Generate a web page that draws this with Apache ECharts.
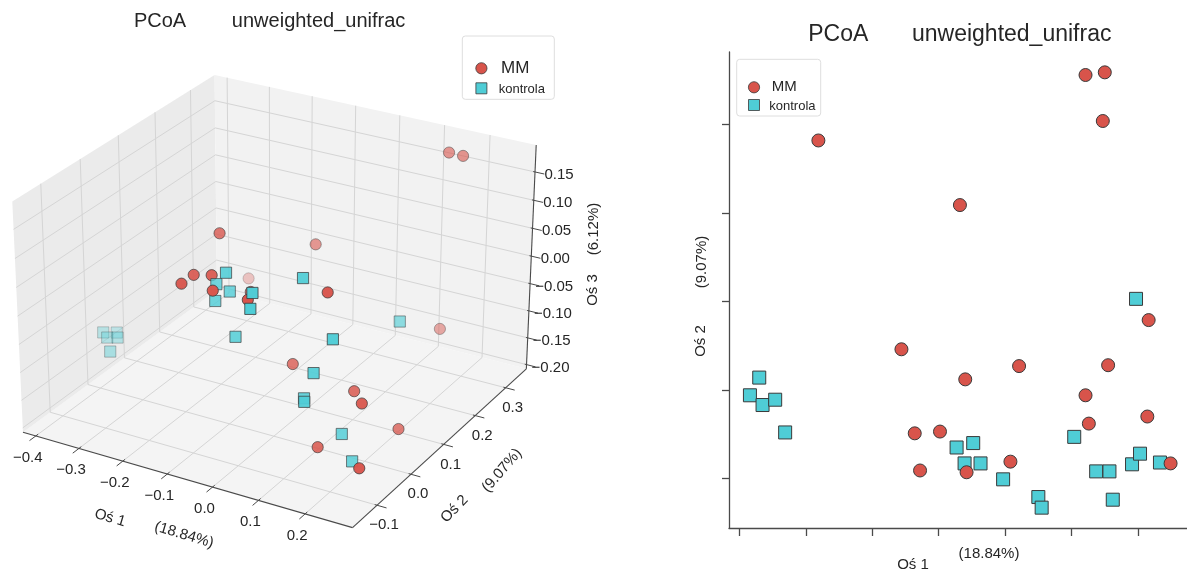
<!DOCTYPE html>
<html><head><meta charset="utf-8">
<script src="https://cdn.jsdelivr.net/npm/echarts@6/dist/echarts.min.js"></script>
<style>html,body{margin:0;padding:0;background:#fff}#c{width:1187px;height:574px}</style>
</head><body><div id="c"></div>
<script>
// ---------------- data ----------------
const seriesNames = ['MM', 'kontrola'];
const mmOs1 = [-0.281, -0.068, 0.121, 0.150, 0.147, -0.156, -0.060, 0.021, 0.155, 0.216, 0.121, -0.136, -0.098, 0.126, 0.214, -0.128, -0.058, 0.008, 0.249];
const mmOs2 = [0.282, 0.209, 0.356, 0.359, 0.304, 0.046, 0.012, 0.027, 0.028, 0.079, -0.006, -0.049, -0.047, -0.038, -0.030, -0.091, -0.093, -0.081, -0.083];
const mmOs3 = [-0.115, 0.023, 0.158, 0.156, -0.133, 0.099, 0.031, -0.087, -0.107, -0.188, 0.075, 0.074, 0.080, -0.179, -0.086, 0.080, 0.083, 0.075, -0.164];
const kOs1 = [-0.370, -0.384, -0.365, -0.346, -0.331, -0.073, -0.048, -0.061, -0.037, -0.003, 0.050, 0.055, 0.104, 0.197, 0.137, 0.157, 0.162, 0.191, 0.203, 0.233];
const kOs2 = [0.014, -0.006, -0.017, -0.011, -0.048, -0.065, -0.060, -0.083, -0.083, -0.101, -0.121, -0.133, -0.053, 0.103, -0.092, -0.092, -0.124, -0.084, -0.072, -0.082];
const kOs3 = [-0.106, -0.099, -0.099, -0.098, -0.102, 0.078, 0.068, 0.060, 0.113, 0.019, 0.114, 0.094, 0.118, -0.012, -0.062, -0.014, -0.046, 0.047, -0.120, -0.156];
const os1Ticks = [-0.4, -0.3, -0.2, -0.1, 0.0, 0.1, 0.2];
const os2Ticks = [-0.1, 0.0, 0.1, 0.2, 0.3];
const os3Ticks = [-0.20, -0.15, -0.10, -0.05, 0.00, 0.05, 0.10, 0.15];
const titleParts = ['PCoA', 'unweighted_unifrac'];
const axisNames = ['Oś 1', 'Oś 2', 'Oś 3'];
const axisPct = ['(18.84%)', '(9.07%)', '(6.12%)'];

// ---------------- style ----------------
const FONT = '"Liberation Sans", Arial, sans-serif';
const MM_COLOR = '#d8544b', K_COLOR = '#4fcdd6', EDGE = '#3a3a3a';
const AXIS_COLOR = '#4a4a4a', GRID_COLOR = '#d5d5d5', TEXT_COLOR = '#262626';

// ---------------- 3D view (left panel) ----------------
const box = { x: [-0.43, 0.30], y: [-0.17, 0.37], z: [-0.208, 0.197] };
const view = { azim: -60, elev: 27, dist: 8, zAspect: 0.705, sx: 375.7, sy: 361.5, cx: 279.7, cy: 288.6 };
function project(x, y, z) {
  const nx = (x - (box.x[0] + box.x[1]) / 2) / (box.x[1] - box.x[0]);
  const ny = (y - (box.y[0] + box.y[1]) / 2) / (box.y[1] - box.y[0]);
  const nz = (z - (box.z[0] + box.z[1]) / 2) / (box.z[1] - box.z[0]) * view.zAspect;
  const a = view.azim * Math.PI / 180, e = view.elev * Math.PI / 180;
  const pr = -Math.sin(a) * nx + Math.cos(a) * ny;
  const pu = -Math.sin(e) * Math.cos(a) * nx - Math.sin(e) * Math.sin(a) * ny + Math.cos(e) * nz;
  const pw = Math.cos(e) * Math.cos(a) * nx + Math.cos(e) * Math.sin(a) * ny + Math.sin(e) * nz;
  const f = view.dist / (view.dist - pw);
  return [view.cx + view.sx * f * pr, view.cy - view.sy * f * pu, pw];
}
const P = (x, y, z) => project(x, y, z).slice(0, 2);
const fmt = (v, d) => (v < 0 ? '\u2212' : '') + Math.abs(v).toFixed(d);

const [x0, x1] = box.x, [y0, y1] = box.y, [z0, z1] = box.z;
const frame = [];
frame.push({ type: 'polygon', shape: { points: [P(x0, y0, z0), P(x1, y0, z0), P(x1, y1, z0), P(x0, y1, z0)] }, style: { fill: '#f4f4f4' }, z: 0 });
frame.push({ type: 'polygon', shape: { points: [P(x0, y0, z0), P(x0, y1, z0), P(x0, y1, z1), P(x0, y0, z1)] }, style: { fill: '#ebebeb' }, z: 0 });
frame.push({ type: 'polygon', shape: { points: [P(x0, y1, z0), P(x1, y1, z0), P(x1, y1, z1), P(x0, y1, z1)] }, style: { fill: '#f2f2f2' }, z: 0 });
const gl = pts => ({ type: 'polyline', shape: { points: pts }, style: { stroke: GRID_COLOR, lineWidth: 1, fill: null }, z: 0 });
os1Ticks.forEach(t => frame.push(gl([P(t, y0, z0), P(t, y1, z0), P(t, y1, z1)])));
os2Ticks.forEach(t => frame.push(gl([P(x1, t, z0), P(x0, t, z0), P(x0, t, z1)])));
os3Ticks.forEach(t => frame.push(gl([P(x0, y0, t), P(x0, y1, t), P(x1, y1, t)])));
const al = (a, b, w) => ({ type: 'line', shape: { x1: a[0], y1: a[1], x2: b[0], y2: b[1] }, style: { stroke: AXIS_COLOR, lineWidth: w || 1 }, z: 1 });
frame.push(al(P(x0, y0, z0), P(x1, y0, z0), 1.1));
frame.push(al(P(x1, y0, z0), P(x1, y1, z0), 1.1));
frame.push(al(P(x1, y1, z0), P(x1, y1, z1), 1.1));
const txt = (text, x, y, size, rot, extra) => Object.assign({
  type: 'text', x: x, y: y, rotation: rot || 0, z: 5,
  style: { text: text, font: size + 'px ' + FONT, fill: TEXT_COLOR, align: 'center', verticalAlign: 'middle', textAlign: 'center', textVerticalAlign: 'middle' }
}, extra || {});
os1Ticks.forEach(t => {
  frame.push(al(P(t, y0 + 0.006, z0), P(t, y0 - 0.016, z0)));
  const b = P(t, y0, z0);
  frame.push(txt(fmt(t, 1), b[0] - 8, b[1] + 21.5, 15));
});
os2Ticks.forEach(t => {
  frame.push(al(P(x1 - 0.005, t, z0), P(x1 + 0.02, t, z0)));
  const b = P(x1, t, z0);
  frame.push(txt(fmt(t, 1), b[0] + 7, b[1] + 20, 15));
});
os3Ticks.forEach(t => {
  frame.push(al(P(x1 - 0.004, y1, t), P(x1 + 0.02, y1, t)));
  const b = P(x1, y1, t);
  frame.push(txt(fmt(t, 2), b[0] + 24, b[1] + 3, 15));
});
// left axis titles
frame.push(txt(axisNames[0], 110, 518, 15, -0.29));
frame.push(txt(axisPct[0], 184, 535, 15, -0.29));
frame.push(txt(axisNames[1], 454.5, 509, 15, 0.79));
frame.push(txt(axisPct[1], 502, 470.5, 15, 0.86));
frame.push(txt(axisNames[2], 593, 290, 15, Math.PI / 2));
frame.push(txt(axisPct[2], 594, 229, 15, Math.PI / 2));
// titles
frame.push(txt(titleParts[0], 160, 21, 20, 0));
frame.push(txt(titleParts[1], 318.6, 21, 20, 0));
frame.push(txt(titleParts[0], 838.3, 35, 23, 0));
frame.push(txt(titleParts[1], 1011.7, 35, 23, 0));
// right axis titles
frame.push(txt(axisNames[0], 913, 565, 15, 0));
frame.push(txt(axisPct[0], 989, 554, 15, 0));
frame.push(txt(axisNames[1], 701, 341, 15, Math.PI / 2));
frame.push(txt(axisPct[1], 702, 262, 15, Math.PI / 2));
// legends
function legend(bx, by, bw, bh, c1, c2, s1, s2, t1x, t2x) {
  frame.push({ type: 'rect', shape: { x: bx, y: by, width: bw, height: bh, r: 3 }, style: { fill: '#fff', stroke: '#dedede', lineWidth: 1 }, z: 4 });
  frame.push({ type: 'circle', shape: { cx: c1[0], cy: c1[1], r: 5.6 }, style: { fill: MM_COLOR, stroke: EDGE, lineWidth: 0.8 }, z: 5 });
  frame.push({ type: 'rect', shape: { x: c2[0] - 5.5, y: c2[1] - 5.5, width: 11, height: 11 }, style: { fill: K_COLOR, stroke: EDGE, lineWidth: 0.8 }, z: 5 });
  frame.push({ type: 'text', x: t1x, y: c1[1], z: 5, style: { text: seriesNames[0], font: s1 + 'px ' + FONT, fill: TEXT_COLOR, align: 'left', verticalAlign: 'middle', textAlign: 'left', textVerticalAlign: 'middle' } });
  frame.push({ type: 'text', x: t2x, y: c2[1] + 1, z: 5, style: { text: seriesNames[1], font: s2 + 'px ' + FONT, fill: TEXT_COLOR, align: 'left', verticalAlign: 'middle', textAlign: 'left', textVerticalAlign: 'middle' } });
}
legend(462.3, 36, 92, 63.3, [481.4, 68.3], [481.4, 88.3], 17, 13, 501, 498.7);
legend(736.7, 59.3, 84, 56.7, [754, 87.3], [754, 105], 15, 13, 771.7, 769.3);

// ---------------- series ----------------
function series3D(name, xs, ys, zs, shape, color) {
  const data = xs.map((v, i) => [v, ys[i], zs[i]]);
  const depths = data.map(d => project(d[0], d[1], d[2])[2]);
  const dMin = Math.min(...depths), dMax = Math.max(...depths);
  return {
    type: 'custom', name: name, coordinateSystem: 'none', data: data, z: 3, silent: true,
    renderItem: function (params, api) {
      const p = project(api.value(0), api.value(1), api.value(2));
      const t = dMax > dMin ? (dMax - p[2]) / (dMax - dMin) : 0;
      const style = { fill: color, stroke: EDGE, lineWidth: 0.8, opacity: 1 - 0.7 * t };
      const z2 = Math.round(1000 + p[2] * 1000);
      if (shape === 'circle') return { type: 'circle', shape: { cx: p[0], cy: p[1], r: 5.6 }, style: style, z2: z2 };
      return { type: 'rect', shape: { x: p[0] - 5.6, y: p[1] - 5.6, width: 11.2, height: 11.2 }, style: style, z2: z2 };
    }
  };
}

const chart = echarts.init(document.getElementById('c'), null, { renderer: 'canvas' });
chart.setOption({
  animation: false,
  backgroundColor: '#fff',
  graphic: { elements: frame },
  grid: [{ left: 729, top: 52, width: 458, height: 476 }],
  xAxis: [{
    type: 'value', gridIndex: 0, min: -0.4155, max: 0.2737,
    axisLine: { show: true, onZero: false, lineStyle: { color: AXIS_COLOR, width: 1.3 } },
    axisTick: { show: true, customValues: os1Ticks, length: 8, lineStyle: { color: AXIS_COLOR, width: 1.3 } },
    axisLabel: { show: false, customValues: os1Ticks }, splitLine: { show: false }
  }],
  yAxis: [{
    type: 'value', gridIndex: 0, min: -0.156, max: 0.382,
    axisLine: { show: true, onZero: false, lineStyle: { color: AXIS_COLOR, width: 1.3 } },
    axisTick: { show: true, customValues: os2Ticks, length: 7, lineStyle: { color: AXIS_COLOR, width: 1.3 } },
    axisLabel: { show: false, customValues: os2Ticks }, splitLine: { show: false }
  }],
  series: [
    series3D(seriesNames[0], mmOs1, mmOs2, mmOs3, 'circle', MM_COLOR),
    series3D(seriesNames[1], kOs1, kOs2, kOs3, 'rect', K_COLOR),
    {
      type: 'scatter', name: seriesNames[1], xAxisIndex: 0, yAxisIndex: 0, symbol: 'rect', symbolSize: 13, z: 3,
      data: kOs1.map((v, i) => [v, kOs2[i]]),
      itemStyle: { color: K_COLOR, borderColor: EDGE, borderWidth: 1, opacity: 1 }
    },
    {
      type: 'scatter', name: seriesNames[0], xAxisIndex: 0, yAxisIndex: 0, symbol: 'circle', symbolSize: 13, z: 4,
      data: mmOs1.map((v, i) => [v, mmOs2[i]]),
      itemStyle: { color: MM_COLOR, borderColor: EDGE, borderWidth: 1, opacity: 1 }
    }
  ]
});
</script></body></html>
